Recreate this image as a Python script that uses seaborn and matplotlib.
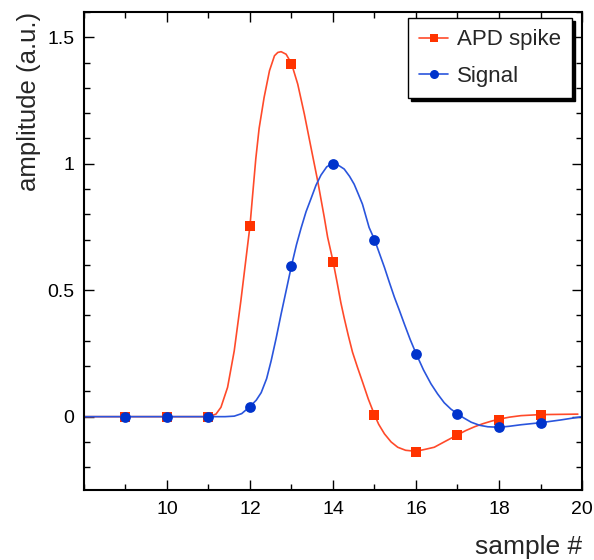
import matplotlib
matplotlib.use("Agg")
import matplotlib.pyplot as plt
from matplotlib.lines import Line2D
from matplotlib.ticker import MultipleLocator, FuncFormatter
import seaborn as sns

# measured samples
sample = [9, 10, 11, 12, 13, 14, 15, 16, 17, 18, 19]
apd_amp = [0.0, 0.0, 0.0, 0.755, 1.395, 0.613, 0.008, -0.138, -0.071, -0.012, 0.008]
sig_amp = [0.0, 0.0, 0.0, 0.040, 0.597, 1.000, 0.700, 0.249, 0.012, -0.040, -0.024]

# fitted pulse shapes
apd_fit_x = [8.0, 11.0, 11.18, 11.30, 11.46, 11.62, 11.78, 11.90, 12.0, 12.06, 12.14,
             12.22, 12.34, 12.47, 12.59, 12.67, 12.75, 12.87, 13.0, 13.15, 13.31, 13.47,
             13.63, 13.79, 13.87, 14.0, 14.1, 14.19, 14.27, 14.37, 14.47, 14.59, 14.71,
             14.85, 15.0, 15.1, 15.24, 15.40, 15.56, 15.75, 16.0, 16.2, 16.44, 16.7,
             17.0, 17.2, 17.41, 17.61, 17.81, 18.0, 18.25, 18.53, 18.98, 19.9]
apd_fit_y = [0.0, 0.0, 0.01, 0.037, 0.116, 0.26, 0.458, 0.62, 0.755, 0.87, 1.02,
             1.14, 1.262, 1.368, 1.427, 1.44, 1.443, 1.433, 1.396, 1.315, 1.196, 1.064,
             0.933, 0.788, 0.71, 0.615, 0.53, 0.45, 0.39, 0.32, 0.255, 0.195, 0.138,
             0.07, 0.007, -0.03, -0.068, -0.10, -0.121, -0.133, -0.137, -0.13, -0.121, -0.098,
             -0.072, -0.055, -0.04, -0.028, -0.018, -0.010, -0.002, 0.004, 0.008, 0.01]
sig_fit_x = [8.0, 11.0, 11.4, 11.62, 11.8, 12.0, 12.15, 12.27, 12.4, 12.51, 12.63,
             12.75, 12.88, 13.0, 13.12, 13.23, 13.35, 13.47, 13.59, 13.71, 13.85, 13.98,
             14.12, 14.27, 14.40, 14.51, 14.61, 14.71, 14.87, 15.0, 15.12, 15.24, 15.36,
             15.48, 15.60, 15.72, 15.86, 16.0, 16.18, 16.36, 16.52, 16.68, 16.84, 17.0,
             17.15, 17.33, 17.53, 17.73, 18.0, 18.25, 18.53, 19.0, 19.49, 20.0]
sig_fit_y = [0.0, 0.0, 0.0, 0.002, 0.012, 0.04, 0.065, 0.095, 0.15, 0.221, 0.31,
             0.406, 0.505, 0.597, 0.68, 0.745, 0.81, 0.862, 0.915, 0.955, 0.988, 1.0,
             0.995, 0.979, 0.95, 0.919, 0.88, 0.84, 0.748, 0.70, 0.645, 0.59, 0.53,
             0.472, 0.42, 0.366, 0.305, 0.25, 0.185, 0.13, 0.09, 0.055, 0.03, 0.011,
             -0.005, -0.022, -0.034, -0.04, -0.042, -0.038, -0.032, -0.024, -0.013, 0.0]

red_line = "#ff4a2a"
red_mark = "#ff3300"
blue_line = "#2a55dd"
blue_mark = "#0033cc"

sns.set_theme(style="ticks")
plt.rcParams["font.family"] = ["Liberation Sans", "DejaVu Sans"]

fig = plt.figure(figsize=(5.94, 5.6), dpi=100)
ax = fig.add_axes([0.1414, 0.125, 0.8384, 0.8536])

sns.lineplot(x=apd_fit_x, y=apd_fit_y, sort=False, estimator=None, color=red_line, lw=1.2, ax=ax)
sns.lineplot(x=sig_fit_x, y=sig_fit_y, sort=False, estimator=None, color=blue_line, lw=1.2, ax=ax)
sns.scatterplot(x=sample, y=apd_amp, marker="s", s=55, color=red_mark, linewidth=0, ax=ax, zorder=3)
sns.scatterplot(x=sample, y=sig_amp, marker="o", s=60, color=blue_mark, linewidth=0, ax=ax, zorder=4)

ax.set_xlim(8, 20)
ax.set_ylim(-0.29, 1.6)
ax.set_xticks([10, 12, 14, 16, 18, 20])
ax.xaxis.set_minor_locator(MultipleLocator(1))
ax.yaxis.set_major_locator(MultipleLocator(0.5))
ax.yaxis.set_minor_locator(MultipleLocator(0.1))
ax.yaxis.set_major_formatter(FuncFormatter(lambda v, _: f"{v:g}"))

ax.tick_params(which="both", direction="in", top=True, right=True, colors="black",
               labelsize=14, width=1)
ax.tick_params(which="major", length=7)
ax.tick_params(which="minor", length=4.5)
ax.tick_params(axis="x", pad=8)
ax.tick_params(axis="y", pad=7)
for sp in ax.spines.values():
    sp.set_linewidth(1.5)
    sp.set_color("black")

ax.set_xlabel("sample #", fontsize=19, loc="right")
ax.set_ylabel("amplitude (a.u.)", fontsize=18.5, loc="top")
ax.xaxis.set_label_coords(1.0, -0.095)
ax.xaxis.label.set_va("top")
ax.yaxis.set_label_coords(-0.086, 1.0)

handles = [
    Line2D([], [], color=red_line, lw=1.2, marker="s", markersize=6,
           markerfacecolor=red_mark, markeredgewidth=0),
    Line2D([], [], color=blue_line, lw=1.2, marker="o", markersize=6.5,
           markerfacecolor=blue_mark, markeredgewidth=0),
]
leg = ax.legend(handles, ["APD spike", "Signal"], loc="upper right",
                bbox_to_anchor=(0.98, 0.987), borderaxespad=0, fontsize=16,
                fancybox=False, shadow={"color": "black", "alpha": 1},
                framealpha=1, edgecolor="black", handlelength=1.3,
                handletextpad=0.4, labelspacing=0.7, borderpad=0.5)
leg.get_frame().set_linewidth(1)

fig.savefig("out.png", dpi=100)
